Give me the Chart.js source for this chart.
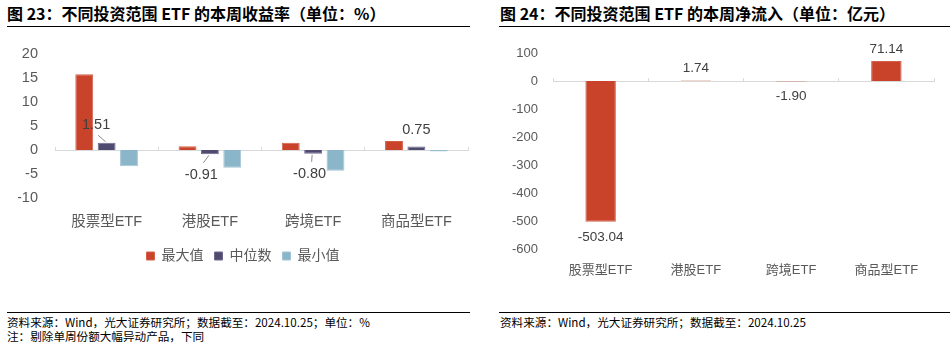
<!DOCTYPE html>
<html lang="zh-CN">
<head>
<meta charset="utf-8">
<title>不同投资范围 ETF 本周收益率与净流入</title>
<script src="https://cdn.jsdelivr.net/npm/chart.js@4.4.1/dist/chart.umd.min.js"></script>
<style>
  html, body { margin: 0; padding: 0; background: #fff; }
  body { width: 950px; height: 343px; position: relative; overflow: hidden; font-family: 'Noto Sans CJK SC', sans-serif; }
  .title { position: absolute; top: 3px; font-size: 16px; font-weight: bold; line-height: 20px; color: #000; white-space: nowrap; }
  .rule { position: absolute; height: 0; border-top: 1.5px solid #000; }
  .note { position: absolute; font-size: 11.6px; line-height: 14px; color: #000; white-space: nowrap; }
  canvas { position: absolute; }
</style>
</head>
<body>
<div class="title" style="left:7px">图 23：不同投资范围 ETF 的本周收益率（单位：%）</div>
<div class="rule" style="left:7px; width:463px; top:26px"></div>
<canvas id="returnChart" width="475" height="237" style="left:0; top:36px"></canvas>
<div class="rule" style="left:7px; width:463px; top:312px"></div>
<div class="note" style="left:7px; top:315px">资料来源：Wind，光大证券研究所；数据截至：2024.10.25；单位：%</div>
<div class="note" style="left:7px; top:329px">注：剔除单周份额大幅异动产品，下同</div>

<div class="title" style="left:500px">图 24：不同投资范围 ETF 的本周净流入（单位：亿元）</div>
<div class="rule" style="left:499px; width:451px; top:26px"></div>
<canvas id="flowChart" width="475" height="243" style="left:475px; top:36px"></canvas>
<div class="rule" style="left:499px; width:451px; top:312px"></div>
<div class="note" style="left:500px; top:315px">资料来源：Wind，光大证券研究所；数据截至：2024.10.25</div>

<script>
// categories shared by both panels
const categories = ['股票型ETF', '港股ETF', '跨境ETF', '商品型ETF'];

// weekly return, %
const returnMax = [15.8, 0.8, 1.5, 1.9];
const returnMedian = [1.51, -0.91, -0.80, 0.75];
const returnMin = [-3.4, -3.7, -4.3, -0.3];
const returnSeriesNames = ['最大值', '中位数', '最小值'];
const returnTicks = [-10, -5, 0, 5, 10, 15, 20];

// weekly net inflow, 亿元
const flowValues = [-503.04, 1.74, -1.90, 71.14];
const flowTicks = [-600, -500, -400, -300, -200, -100, 0, 100];

const FONT = "'Liberation Sans', 'Noto Sans CJK SC', sans-serif";
const RED = '#c8432a';
const PURPLE = '#4f4a70';
const LIGHTBLUE = '#8bb5c9';
const AXIS_TEXT = '#595959';
const LABEL_TEXT = '#404040';
const ZERO_LINE = '#d9d9d9';

Chart.defaults.font.family = FONT;
Chart.defaults.animation = false;

// [dx, dy, leader] : label offset from the bar end, and whether to draw a leader line
const medianLabelPlace = [
  [-10.5, -17.5, true],
  [-8.5, 20.5, true],
  [-3.5, 20, true],
  [0, -16.5, false]
];

const medianLabels = {
  id: 'medianLabels',
  afterDatasetsDraw(chart) {
    const ctx = chart.ctx;
    const meta = chart.getDatasetMeta(1);
    ctx.save();
    ctx.font = '14.5px ' + FONT;
    ctx.fillStyle = LABEL_TEXT;
    ctx.textAlign = 'center';
    ctx.textBaseline = 'middle';
    meta.data.forEach((bar, i) => {
      const v = returnMedian[i];
      const [dx, dy, leader] = medianLabelPlace[i];
      const lx = bar.x + dx;
      const ly = bar.y + dy;
      if (leader) {
        ctx.beginPath();
        ctx.strokeStyle = '#8c8c8c';
        ctx.lineWidth = 1;
        ctx.moveTo(bar.x - 1, bar.y + (v >= 0 ? -1 : 1));
        ctx.lineTo(lx + 2, ly + (v >= 0 ? 10 : -12));
        ctx.stroke();
      }
      ctx.fillText(v.toFixed(2), lx, ly);
    });
    ctx.restore();
  }
};

const flowLabels = {
  id: 'flowLabels',
  afterDatasetsDraw(chart) {
    const ctx = chart.ctx;
    const meta = chart.getDatasetMeta(0);
    ctx.save();
    ctx.font = '13.5px ' + FONT;
    ctx.fillStyle = LABEL_TEXT;
    ctx.textAlign = 'center';
    ctx.textBaseline = 'middle';
    meta.data.forEach((bar, i) => {
      const v = flowValues[i];
      ctx.fillText(v.toFixed(2), bar.x, bar.y + (v >= 0 ? -12 : 15));
    });
    ctx.restore();
  }
};

function zeroAxis() {
  // category axis pinned to y = 0: draws the zero line and the category separators
  return {
    axis: 'x',
    type: 'category',
    labels: categories,
    position: { y: 0 },
    offset: true,
    grid: { offset: true, drawOnChartArea: false, drawTicks: true, tickLength: -4, color: ZERO_LINE },
    border: { display: true, color: ZERO_LINE, width: 1 },
    ticks: { display: false }
  };
}

// fixed y-axis width; the tick padding only moves labels sideways
function fixedWidth(w) {
  return function (scale) {
    scale.width = w;
    scale.paddingTop = 8;
    scale.paddingBottom = 8;
  };
}

function fixedHeight(h) {
  return function (scale) { scale.height = h; };
}

new Chart(document.getElementById('returnChart'), {
  type: 'bar',
  data: {
    labels: categories,
    datasets: [
      { label: returnSeriesNames[0], data: returnMax, backgroundColor: RED, borderColor: '#d5614b', borderWidth: 1, xAxisID: 'x' },
      { label: returnSeriesNames[1], data: returnMedian, backgroundColor: PURPLE, borderColor: '#6e6a8c', borderWidth: 1, xAxisID: 'x' },
      { label: returnSeriesNames[2], data: returnMin, backgroundColor: LIGHTBLUE, borderColor: '#a3c5d5', borderWidth: 1, xAxisID: 'x' }
    ]
  },
  options: {
    responsive: false,
    categoryPercentage: 0.65,
    barPercentage: 0.8,
    // left padding only shifts the centred legend; the y axis width makes up for it
    layout: { padding: { top: 18, right: 7, left: 18, bottom: 0 } },
    plugins: {
      legend: {
        position: 'bottom',
        labels: {
          boxWidth: 8, boxHeight: 8, padding: 11,
          color: AXIS_TEXT, font: { size: 14 }
        }
      },
      tooltip: { enabled: false }
    },
    scales: {
      x: {
        afterFit: fixedHeight(40),
        grid: { display: false, drawTicks: false },
        border: { display: false },
        ticks: { color: AXIS_TEXT, font: { size: 14.5 }, padding: 15 }
      },
      xZero: zeroAxis(),
      y: {
        min: returnTicks[0],
        max: returnTicks[returnTicks.length - 1],
        afterBuildTicks(scale) { scale.ticks = returnTicks.map(v => ({ value: v })); },
        afterFit: fixedWidth(37),
        grid: { display: false, drawTicks: false },
        border: { display: false },
        ticks: { color: AXIS_TEXT, font: { size: 14.5 }, padding: 17, autoSkip: false }
      }
    }
  },
  plugins: [medianLabels]
});

new Chart(document.getElementById('flowChart'), {
  type: 'bar',
  data: {
    labels: categories,
    datasets: [
      { label: '本周净流入', data: flowValues, backgroundColor: RED, borderColor: '#d5614b', borderWidth: 1, xAxisID: 'x' }
    ]
  },
  options: {
    responsive: false,
    categoryPercentage: 0.8,
    barPercentage: 0.4,
    layout: { padding: { top: 17, right: 16, left: 0, bottom: 0 } },
    plugins: {
      legend: { display: false },
      tooltip: { enabled: false }
    },
    scales: {
      x: {
        afterFit: fixedHeight(30),
        grid: { display: false, drawTicks: false },
        border: { display: false },
        ticks: { color: AXIS_TEXT, font: { size: 13 }, padding: 14 }
      },
      xZero: zeroAxis(),
      y: {
        min: flowTicks[0],
        max: flowTicks[flowTicks.length - 1],
        afterBuildTicks(scale) { scale.ticks = flowTicks.map(v => ({ value: v })); },
        afterFit: fixedWidth(78),
        grid: { display: false, drawTicks: false },
        border: { display: false },
        ticks: { color: AXIS_TEXT, font: { size: 13 }, padding: 15, autoSkip: false }
      }
    }
  },
  plugins: [flowLabels]
});
</script>
</body>
</html>
